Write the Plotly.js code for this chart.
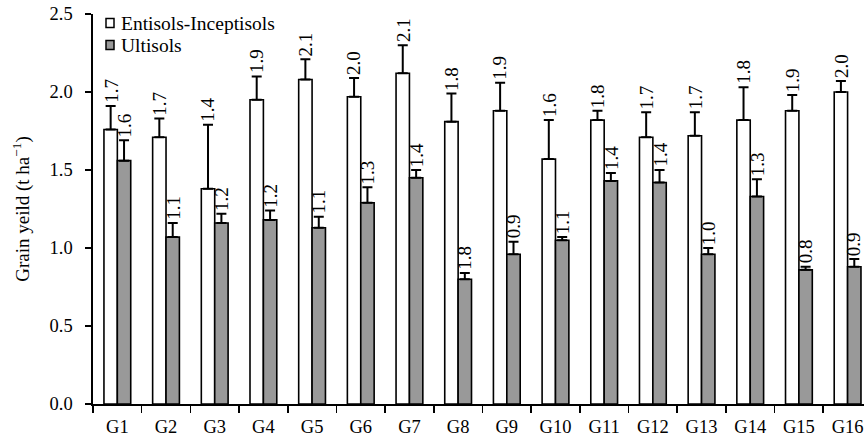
<!DOCTYPE html>
<html>
<head>
<meta charset="utf-8">
<script src="https://cdn.plot.ly/plotly-3.0.1.min.js"></script>
<style>html,body{margin:0;padding:0;background:#fff;}#chart{width:864px;height:440px;}</style>
</head>
<body>
<div id="chart"></div>
<script>
var categories = ['G1','G2','G3','G4','G5','G6','G7','G8','G9','G10','G11','G12','G13','G14','G15','G16'];
var seriesNames = ['Entisols-Inceptisols', 'Ultisols'];
var entVals = [1.76,1.71,1.38,1.95,2.08,1.97,2.12,1.81,1.88,1.57,1.82,1.71,1.72,1.82,1.88,2.00];
var entErr  = [0.15,0.12,0.41,0.15,0.13,0.12,0.18,0.18,0.18,0.25,0.06,0.16,0.15,0.21,0.10,0.07];
var ultVals = [1.56,1.07,1.16,1.18,1.13,1.29,1.45,0.80,0.96,1.05,1.43,1.42,0.96,1.33,0.86,0.88];
var ultErr  = [0.13,0.09,0.06,0.06,0.07,0.10,0.05,0.04,0.08,0.02,0.05,0.08,0.04,0.11,0.02,0.05];
var entLabels = ['1.7','1.7','1.4','1.9','2.1','2.0','2.1','1.8','1.9','1.6','1.8','1.7','1.7','1.8','1.9','2.0'];
var ultLabels = ['1.6','1.1','1.2','1.2','1.1','1.3','1.4','1.8','0.9','1.1','1.4','1.4','1.0','1.3','0.8','0.9'];
var yTicks = [0, 0.5, 1.0, 1.5, 2.0, 2.5];

var FONT = 'Liberation Serif, Times New Roman, serif';
var bargap = 0.45;
var half = (1 - bargap) / 4;

function zeros(n){ var a=[]; for(var i=0;i<n;i++) a.push(0); return a; }

var traces = [
  {type:'bar', name:seriesNames[0], x:categories, y:entVals,
   marker:{color:'#ffffff', line:{color:'#000', width:1.6}},
   error_y:{type:'data', symmetric:false, array:entErr, arrayminus:zeros(entErr.length), color:'#000', thickness:2, width:5},
   showlegend:false, hoverinfo:'skip'},
  {type:'bar', name:seriesNames[1], x:categories, y:ultVals,
   marker:{color:'#999999', line:{color:'#000', width:1.6}},
   error_y:{type:'data', symmetric:false, array:ultErr, arrayminus:zeros(ultErr.length), color:'#000', thickness:2, width:5},
   showlegend:false, hoverinfo:'skip'}
];

var annotations = [];
function addLabels(vals, errs, labels, off){
  for (var i=0;i<vals.length;i++){
    annotations.push({xref:'x', yref:'y', x:i+off, y:vals[i]+errs[i], text:labels[i],
      textangle:-90, showarrow:false, xanchor:'center', yanchor:'bottom', yshift:1,
      font:{family:FONT, size:19, color:'#000'}});
  }
}
addLabels(entVals, entErr, entLabels, -half);
addLabels(ultVals, ultErr, ultLabels, half);

// custom legend
var legendFills = ['#ffffff', '#999999'];
var shapes = [];
for (var k=0;k<seriesNames.length;k++){
  shapes.push({type:'rect', xref:'paper', yref:'paper', xsizemode:'pixel', ysizemode:'pixel',
    xanchor:0, yanchor:1, x0:13, x1:21, y0:-13.5-22*k, y1:-4.5-22*k,
    fillcolor:legendFills[k], line:{color:'#000', width:1.5}});
  annotations.push({xref:'paper', yref:'paper', x:0, y:1, xanchor:'left', yanchor:'middle',
    xshift:26, yshift:-9-22*k, showarrow:false, text:seriesNames[k],
    font:{family:FONT, size:19.5, color:'#000'}});
}

var layout = {
  width:864, height:440,
  margin:{l:93, r:0, t:14, b:36},
  paper_bgcolor:'#fff', plot_bgcolor:'#fff',
  font:{family:FONT, color:'#000'},
  barmode:'group', bargap:bargap, bargroupgap:0,
  showlegend:false,
  xaxis:{type:'category', range:[-0.5, 15.337], showline:true, linecolor:'#000', linewidth:1.6,
    ticks:'outside', tickson:'boundaries', ticklen:7, tickwidth:1.6, tickcolor:'#000', ticklabelstandoff:5,
    showgrid:false, zeroline:false, tickfont:{family:FONT, size:18.5, color:'#000'}, automargin:false},
  yaxis:{range:[0,2.5], tickvals:yTicks, tickformat:'.1f', showline:true, linecolor:'#000', linewidth:1.6,
    ticks:'outside', ticklen:6, tickwidth:2, tickcolor:'#000', ticklabelstandoff:9,
    showgrid:false, zeroline:false, tickfont:{family:FONT, size:18.5, color:'#000'}, automargin:false,
    title:{text:'Grain yeild (t ha<sup>−1</sup>)', font:{family:FONT, size:19, color:'#000'}, standoff:15}},
  annotations:annotations,
  shapes:shapes
};

Plotly.newPlot('chart', traces, layout, {staticPlot:true, displayModeBar:false});
</script>
</body>
</html>
